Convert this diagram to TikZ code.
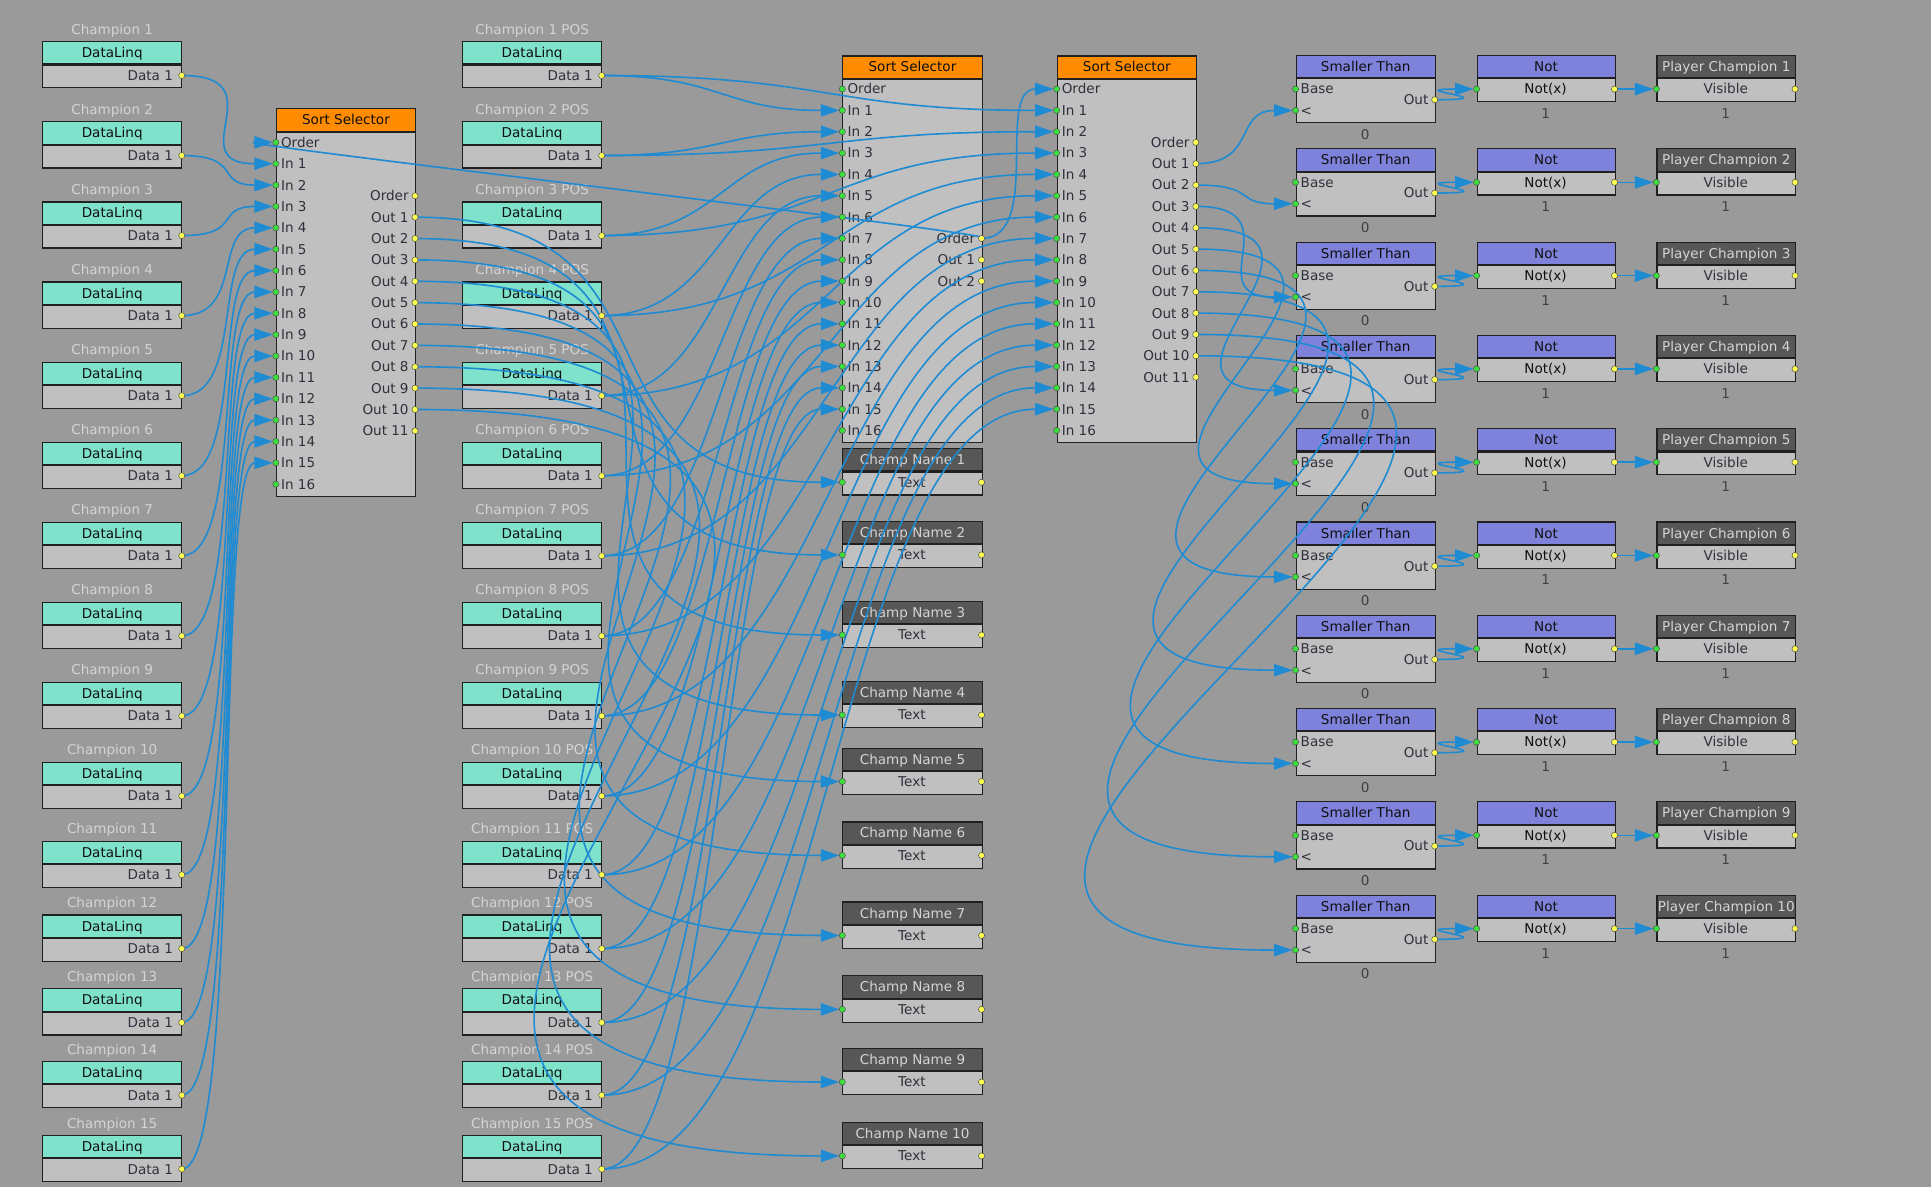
\documentclass[tikz,border=0pt]{standalone}
\usepackage{fontspec}
\setmainfont{DejaVu Sans}
\usetikzlibrary{arrows.meta}
\pgfdeclarelayer{front}
\pgfsetlayers{main,front}
\definecolor{bg}{HTML}{9A9A9A}
\definecolor{tealh}{HTML}{7FE2CA}
\definecolor{bodyg}{HTML}{C0C0C0}
\definecolor{orangeh}{HTML}{FF8C00}
\definecolor{purph}{HTML}{7E82DA}
\definecolor{darkh}{HTML}{575757}
\definecolor{edge}{HTML}{202020}
\definecolor{linkc}{HTML}{1E8BD2}
\definecolor{lbltxt}{HTML}{D4D4D4}
\definecolor{darktxt}{HTML}{30303C}
\definecolor{hdrtxt}{HTML}{101010}
\definecolor{lighthdrtxt}{HTML}{D4D4D4}
\definecolor{indotc}{HTML}{3CE03C}
\definecolor{outdotc}{HTML}{FFFF50}
\definecolor{valtxt}{HTML}{404040}
\tikzset{
  txt/.style={inner sep=0pt, text height=8pt, text depth=0pt},
  boxbase/.style={draw=edge, line width=0.9pt, inner sep=0pt, minimum width=113pt, text height=8pt, text depth=0pt},
  hteal/.style={boxbase, fill=tealh, minimum height=18pt, text=hdrtxt},
  horange/.style={boxbase, fill=orangeh, minimum height=18pt, text=hdrtxt},
  hpurp/.style={boxbase, fill=purph, minimum height=18pt, text=hdrtxt},
  hdark/.style={boxbase, fill=darkh, minimum height=18pt, text=lighthdrtxt},
  bodybox/.style={boxbase, fill=bodyg},
  lbl/.style={txt, text=lbltxt},
  ptxtl/.style={txt, text=darktxt, anchor=west},
  ptxtr/.style={txt, text=darktxt, anchor=east},
  ctxt/.style={txt, text=darktxt},
  valt/.style={txt, text=valtxt},
  indot/.style={circle, fill=indotc, draw=edge!80, line width=0.4pt, minimum size=5pt, inner sep=0pt},
  outdot/.style={circle, fill=outdotc, draw=edge!80, line width=0.4pt, minimum size=5pt, inner sep=0pt},
  link/.style={draw=linkc, line width=1.3pt, -{Triangle[length=15pt,width=10pt]}, shorten >=2.5pt},
}
% DataLinq node: name, x-left, header centre y, label
\newcommand\dlnode[4]{%
  \node[lbl] (#1-l) at (#2+56.5,#3-19) {#4};
  \node[hteal] (#1-h) at (#2+56.5,#3) {DataLinq};
  \node[bodybox, minimum height=18.5pt, anchor=north] (#1-b) at (#1-h.south) {};
  \node[ptxtr] (#1-t) at (#2+106,#3+18.3) {Data 1};
  \coordinate (#1-o) at (#2+113,#3+18.3);
  \begin{pgfonlayer}{front}\node[outdot] (#1-d) at (#1-o) {};\end{pgfonlayer}
}
\newcommand\inport[4]{%
  \coordinate (#1) at (#2,#3);
  \node[ptxtl] (#1-t) at (#2+4,#3) {#4};
  \begin{pgfonlayer}{front}\node[indot] (#1-d) at (#1) {};\end{pgfonlayer}
}
\newcommand\outport[4]{%
  \coordinate (#1) at (#2,#3);
  \node[ptxtr] (#1-t) at (#2-5,#3) {#4};
  \begin{pgfonlayer}{front}\node[outdot] (#1-d) at (#1) {};\end{pgfonlayer}
}
% link: from, to, x1, y1, x2, y2
\newcommand\lnk[6]{%
  \pgfmathsetmacro\dd{max(50,(#5-#3)/2,1.1*(#6-#4))}%
  \draw[link] (#1) .. controls +(\dd,0) and +(-\dd,0) .. (#2);
}
\begin{document}
\begin{tikzpicture}[x=1pt,y=-1pt,font=\fontsize{11}{13}\selectfont]
\fill[bg] (0,0) rectangle (1568,964);
\useasboundingbox (0,0) rectangle (1568,964);

% ---- DataLinq columns
\foreach \yc [count=\n] in {43,108,173,238,303,368,433,498,563,628,692,752,812,871,931} {
  \dlnode{c\n}{34.6}{\yc}{Champion \n}
  \dlnode{p\n}{375.6}{\yc}{Champion \n\ POS}
}

% ---- Sort Selector 1
\node[horange, anchor=north west] (ss1-h) at (224,88) {Sort Selector};
\node[bodybox, anchor=north, minimum height=296pt] (ss1-b) at (ss1-h.south) {};
\inport{ss1iO}{224}{115.6}{Order}
\foreach \k in {1,...,16} {\pgfmathsetmacro\yy{115.6+17.35*\k}\inport{ss1i\k}{224}{\yy}{In \k}}
\outport{ss1oO}{337}{159}{Order}
\foreach \k in {1,...,11} {\pgfmathsetmacro\yy{159+17.35*\k}\outport{ss1o\k}{337}{\yy}{Out \k}}

% ---- Sort Selector 2
\node[horange, anchor=north west] (ss2-h) at (684,45) {Sort Selector};
\node[bodybox, anchor=north, minimum height=295pt] (ss2-b) at (ss2-h.south) {};
\inport{ss2iO}{684}{72.3}{Order}
\foreach \k in {1,...,16} {\pgfmathsetmacro\yy{72.3+17.33*\k}\inport{ss2i\k}{684}{\yy}{In \k}}
\outport{ss2oO}{797}{193.6}{Order}
\outport{ss2o1}{797}{211}{Out 1}
\outport{ss2o2}{797}{228.3}{Out 2}

% ---- Sort Selector 3
\node[horange, anchor=north west] (ss3-h) at (858,45) {Sort Selector};
\node[bodybox, anchor=north, minimum height=295pt] (ss3-b) at (ss3-h.south) {};
\inport{ss3iO}{858}{72.3}{Order}
\foreach \k in {1,...,16} {\pgfmathsetmacro\yy{72.3+17.33*\k}\inport{ss3i\k}{858}{\yy}{In \k}}
\outport{ss3oO}{971}{115.6}{Order}
\foreach \k in {1,...,11} {\pgfmathsetmacro\yy{115.6+17.33*\k}\outport{ss3o\k}{971}{\yy}{Out \k}}

% ---- Champ Name nodes
\foreach \tp [count=\k] in {364,423,488,553,607,667,732,792,851,911} {
  \node[hdark, anchor=north west] (cn\k-h) at (684,\tp) {Champ Name \k};
  \node[bodybox, anchor=north, minimum height=18.6pt] (cn\k-b) at (cn\k-h.south) {};
  \node[ctxt] (cn\k-x) at (740.5,\tp+27.6) {Text};
  \inport{cn\k-i}{684}{\tp+27.6}{}
  \outport{cn\k-o}{797}{\tp+27.6}{}
}

% ---- Smaller Than / Not / Player Champion rows
\foreach \k in {1,...,10} {
  \pgfmathsetmacro\tp{44.7+75.75*(\k-1)}
  \node[hpurp, anchor=north west] (st\k-h) at (1052,\tp) {Smaller Than};
  \node[bodybox, anchor=north, minimum height=35.6pt] (st\k-b) at (st\k-h.south) {};
  \inport{st\k-base}{1052}{\tp+27.6}{Base}
  \inport{st\k-lt}{1052}{\tp+45}{\textless}
  \outport{st\k-out}{1165}{\tp+36.3}{Out}
  \node[valt] (st\k-v) at (1108.5,\tp+64.3) {0};
  \node[hpurp, anchor=north west, minimum width=112pt] (nt\k-h) at (1199,\tp) {Not};
  \node[bodybox, anchor=north, minimum width=112pt, minimum height=18.5pt] (nt\k-b) at (nt\k-h.south) {};
  \node[ctxt, text=hdrtxt] (nt\k-x) at (1255,\tp+27.6) {Not(x)};
  \inport{nt\k-in}{1199}{\tp+27.6}{}
  \outport{nt\k-out}{1311}{\tp+27.6}{}
  \node[valt] (nt\k-v) at (1255,\tp+47.5) {1};
  \node[hdark, anchor=north west, minimum width=112.6pt] (pl\k-h) at (1345,\tp) {Player Champion \k};
  \node[bodybox, anchor=north, minimum width=112.6pt, minimum height=18.5pt] (pl\k-b) at (pl\k-h.south) {};
  \node[ctxt] (pl\k-x) at (1401.3,\tp+27.6) {Visible};
  \inport{pl\k-in}{1345}{\tp+27.6}{}
  \outport{pl\k-out}{1457.6}{\tp+27.6}{}
  \node[valt] (pl\k-v) at (1401.3,\tp+47.5) {1};
}

% ---- Links
\foreach \yc [count=\n] in {43,108,173,238,303,368,433,498,563,628,692,752,812,871,931} {
  \pgfmathsetmacro\ya{\yc+18.3}
  \pgfmathsetmacro\yb{115.6+17.35*\n}
  \lnk{c\n-o}{ss1i\n}{148}{\ya}{224}{\yb}
  \pgfmathsetmacro\yb{72.3+17.33*\n}
  \lnk{p\n-o}{ss2i\n}{489}{\ya}{684}{\yb}
  \lnk{p\n-o}{ss3i\n}{489}{\ya}{858}{\yb}
}
\lnk{ss2oO}{ss1iO}{797}{193.6}{224}{115.6}
\lnk{ss2oO}{ss3iO}{797}{193.6}{858}{72.3}
\foreach \tp [count=\k] in {364,423,488,553,607,667,732,792,851,911} {
  \pgfmathsetmacro\ya{159+17.35*\k}
  \pgfmathsetmacro\yb{\tp+27.6}
  \lnk{ss1o\k}{cn\k-i}{337}{\ya}{684}{\yb}
}
\foreach \k in {1,...,10} {
  \pgfmathsetmacro\ya{115.6+17.33*\k}
  \pgfmathsetmacro\yb{44.7+75.75*(\k-1)+45}
  \lnk{ss3o\k}{st\k-lt}{971}{\ya}{1052}{\yb}
  \draw[link] (st\k-out) .. controls +(65,0) and +(-65,0) .. (nt\k-in);
  \draw[link] (nt\k-out) -- (pl\k-in);
}
\end{tikzpicture}
\end{document}
